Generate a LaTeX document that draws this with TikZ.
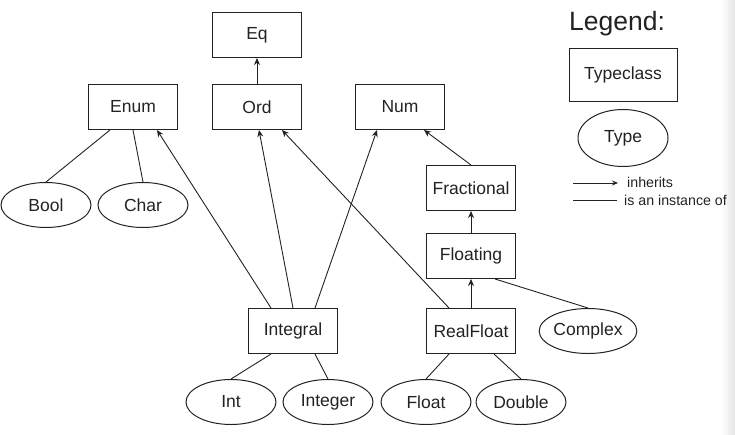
\documentclass[tikz,border=0pt]{standalone}
\usepackage{fontspec}
\setmainfont{Liberation Sans}
\usetikzlibrary{shapes.geometric,arrows.meta}
\definecolor{ink}{HTML}{222222}
\begin{document}
\begin{tikzpicture}[x=1pt,y=-1pt,
  every node/.style={text=ink,font=\fontsize{17.5}{20}\selectfont},
  tclass/.style={draw=ink,line width=1pt,minimum width=89pt,minimum height=45pt,inner sep=0pt},
  tval/.style={draw=ink,line width=1pt,ellipse,minimum width=90pt,minimum height=45pt,inner sep=0pt},
  inh/.style={draw=ink,line width=0.9pt,-{Stealth[length=7pt,width=6pt]}},
  inst/.style={draw=ink,line width=0.9pt}]
\useasboundingbox (0,0) rectangle (735,434);
\shade[left color=white,right color=black!10] (721,0) rectangle (735,434);

% typeclasses
\node[tclass] (eq) at (257,35) {Eq};
\node[tclass] (enum) at (133,107) {Enum};
\node[tclass] (ord) at (257,107) {Ord};
\node[tclass] (num) at (400,107) {Num};
\node[tclass] (fractional) at (471,188) {Fractional};
\node[tclass] (floating) at (471,256) {Floating};
\node[tclass] (integral) at (293,331) {Integral};
\node[tclass] (realfloat) at (471,331) {RealFloat};

% types
\node[tval] (bool) at (46,205) {Bool};
\node[tval] (char) at (143,205) {Char};
\node[tval] (complex) at (588,331) {Complex};
\node[tval] (int) at (231,402) {Int};
\node[tval] (integer) at (328,402) {Integer};
\node[tval] (float) at (426,402) {Float};
\node[tval] (double) at (521,402) {Double};

% inheritance
\draw[inh] (ord) -- (eq);
\draw[inh] ([xshift=-22pt]integral.north) -- ([xshift=24pt]enum.south);
\draw[inh] (integral.north) -- ([xshift=2pt]ord.south);
\draw[inh] ([xshift=22pt]integral.north) -- ([xshift=-23pt]num.south);
\draw[inh] ([xshift=-22pt]realfloat.north) -- ([xshift=25pt]ord.south);
\draw[inh] (fractional.north) -- ([xshift=24pt]num.south);
\draw[inh] (floating) -- (fractional);
\draw[inh] (realfloat) -- (floating);

% instances
\draw[inst] ([xshift=-23pt]enum.south) -- (bool.north);
\draw[inst] (enum.south) -- (char.north);
\draw[inst] ([xshift=24pt]floating.south) -- (complex.north);
\draw[inst] ([xshift=-22pt]integral.south) -- (int.north);
\draw[inst] ([xshift=22pt]integral.south) -- (integer.north);
\draw[inst] ([xshift=-22pt]realfloat.south) -- (float.north);
\draw[inst] ([xshift=23pt]realfloat.south) -- (double.north);

% legend
\node[font=\fontsize{26.5}{30}\selectfont] (legend) at (617,24) {Legend:};
\node[tclass,minimum width=108pt,minimum height=53pt] (lgclass) at (623,75) {Typeclass};
\node[tval,minimum height=57pt] (lgtype) at (623,138) {Type};
\coordinate (la1) at (573,183);
\coordinate (la2) at (618,183);
\coordinate (lb1) at (573,200);
\coordinate (lb2) at (617,200);
\draw[inh,-{Stealth[length=6pt,width=5pt]}] (la1) -- (la2);
\draw[inst] (lb1) -- (lb2);
\node[anchor=west,font=\fontsize{14.2}{16}\selectfont,inner sep=0pt] (linh) at (627,182) {inherits};
\node[anchor=west,font=\fontsize{14.2}{16}\selectfont,inner sep=0pt] (linst) at (624,200) {is an instance of};
\end{tikzpicture}
\end{document}
